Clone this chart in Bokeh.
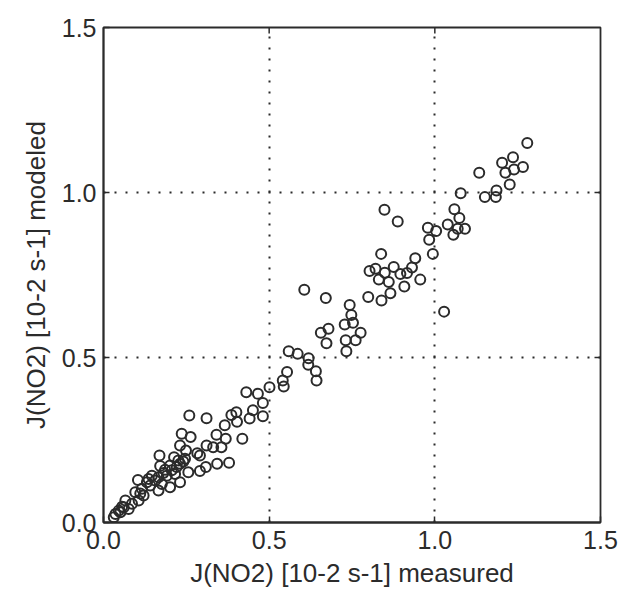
import math
from bokeh.plotting import figure
from bokeh.models import FixedTicker, PrintfTickFormatter, Range1d
from bokeh.embed import file_html
from bokeh.resources import INLINE

# J(NO2) measured vs modeled [10-2 s-1]
measured = [
    1.279, 1.236, 1.203, 1.266, 1.239, 1.213, 1.134, 1.226, 1.186, 1.184, 1.151,
    1.078, 1.059, 1.074, 1.039, 0.979, 1.004, 1.056, 1.069, 1.091, 0.983, 0.994,
    1.028, 0.848, 0.888, 0.838, 0.941, 0.876, 0.803, 0.821, 0.849, 0.896, 0.931,
    0.916, 0.831, 0.861, 0.956, 0.908, 0.866, 0.799, 0.839, 0.606, 0.671, 0.743,
    0.748, 0.728, 0.753, 0.679, 0.656, 0.776, 0.761, 0.731, 0.673, 0.733, 0.559,
    0.586, 0.619, 0.618, 0.641, 0.643, 0.554, 0.541, 0.544, 0.501, 0.431, 0.466,
    0.481, 0.451, 0.481, 0.441, 0.401, 0.386, 0.403, 0.366, 0.259, 0.311, 0.419,
    0.341, 0.369, 0.236, 0.263, 0.311, 0.331, 0.356, 0.231, 0.249, 0.291, 0.169,
    0.213, 0.246, 0.379, 0.343, 0.309, 0.291, 0.231, 0.221, 0.201, 0.171, 0.256,
    0.146, 0.166, 0.191, 0.216, 0.104, 0.131, 0.176, 0.231, 0.201, 0.166, 0.141,
    0.096, 0.121, 0.066, 0.086, 0.061, 0.046, 0.036, 0.031, 0.051, 0.106, 0.076,
    0.156, 0.186, 0.116, 0.226, 0.136, 0.206, 0.181, 0.111, 0.056, 0.241, 0.283,
]
modeled = [
    1.150, 1.107, 1.090, 1.077, 1.070, 1.060, 1.060, 1.024, 1.006, 0.986, 0.986,
    0.998, 0.949, 0.923, 0.903, 0.893, 0.883, 0.872, 0.890, 0.890, 0.857, 0.814,
    0.639, 0.948, 0.912, 0.814, 0.801, 0.774, 0.762, 0.769, 0.757, 0.753, 0.773,
    0.756, 0.736, 0.729, 0.736, 0.715, 0.695, 0.683, 0.673, 0.705, 0.680, 0.659,
    0.629, 0.600, 0.605, 0.587, 0.575, 0.575, 0.552, 0.552, 0.543, 0.519, 0.519,
    0.511, 0.498, 0.478, 0.458, 0.430, 0.456, 0.430, 0.412, 0.410, 0.395, 0.390,
    0.362, 0.340, 0.322, 0.315, 0.334, 0.326, 0.305, 0.295, 0.324, 0.316, 0.254,
    0.266, 0.254, 0.269, 0.259, 0.233, 0.228, 0.228, 0.233, 0.218, 0.203, 0.203,
    0.198, 0.193, 0.181, 0.178, 0.168, 0.156, 0.178, 0.168, 0.173, 0.171, 0.152,
    0.142, 0.137, 0.142, 0.147, 0.129, 0.122, 0.117, 0.122, 0.107, 0.097, 0.112,
    0.092, 0.082, 0.067, 0.057, 0.046, 0.036, 0.026, 0.016, 0.031, 0.067, 0.041,
    0.127, 0.160, 0.102, 0.188, 0.132, 0.158, 0.150, 0.088, 0.048, 0.185, 0.210,
]
ticks = [0.0, 0.5, 1.0, 1.5]
grid_ticks = [0.5, 1.0]
axis_min, axis_max = 0.0, 1.5

FONT = "Liberation Sans"
INK = "#2b2b2b"

p = figure(width=622, height=600, output_backend="svg", toolbar_location=None,
           x_range=Range1d(axis_min, axis_max), y_range=Range1d(axis_min, axis_max),
           min_border_left=103, min_border_right=22, min_border_top=27,
           min_border_bottom=78)
p.frame_width = 497
p.frame_height = 495
p.background_fill_color = "white"
p.outline_line_color = INK
p.outline_line_width = 1.8

for g in (p.xgrid[0], p.ygrid[0]):
    g.ticker = FixedTicker(ticks=grid_ticks)
    g.grid_line_color = INK
    g.grid_line_width = 2
    g.grid_line_dash = "2 9"

# small inward ticks on the top and right frame edges
p.ray(x=grid_ticks, y=[axis_max] * len(grid_ticks), length=6, length_units="screen",
      angle=-math.pi / 2, line_color=INK, line_width=1.5)
p.ray(x=[axis_max] * len(grid_ticks), y=grid_ticks, length=6, length_units="screen",
      angle=math.pi, line_color=INK, line_width=1.5)

p.scatter(measured, modeled, size=10, marker="circle", fill_color=None,
          line_color=INK, line_width=2)

for ax in (p.xaxis[0], p.yaxis[0]):
    ax.ticker = FixedTicker(ticks=ticks)
    ax.formatter = PrintfTickFormatter(format="%.1f")
    ax.major_tick_in = 6
    ax.major_tick_out = 0
    ax.minor_tick_line_color = None
    ax.major_tick_line_color = INK
    ax.major_tick_line_width = 1.5
    ax.axis_line_color = INK
    ax.axis_line_width = 1.8
    ax.major_label_text_font = FONT
    ax.major_label_text_font_size = "25px"
    ax.major_label_text_color = INK
    ax.axis_label_text_font = FONT
    ax.axis_label_text_font_size = "26px"
    ax.axis_label_text_font_style = "normal"
    ax.axis_label_text_color = INK

p.xaxis[0].axis_label = "J(NO2) [10-2 s-1] measured"
p.yaxis[0].axis_label = "J(NO2) [10-2 s-1] modeled"
p.xaxis[0].major_label_standoff = 8
p.yaxis[0].major_label_standoff = 7
p.xaxis[0].axis_label_standoff = 6
p.yaxis[0].axis_label_standoff = 8

with open("out.html", "w") as f:
    f.write(file_html(p, INLINE))
